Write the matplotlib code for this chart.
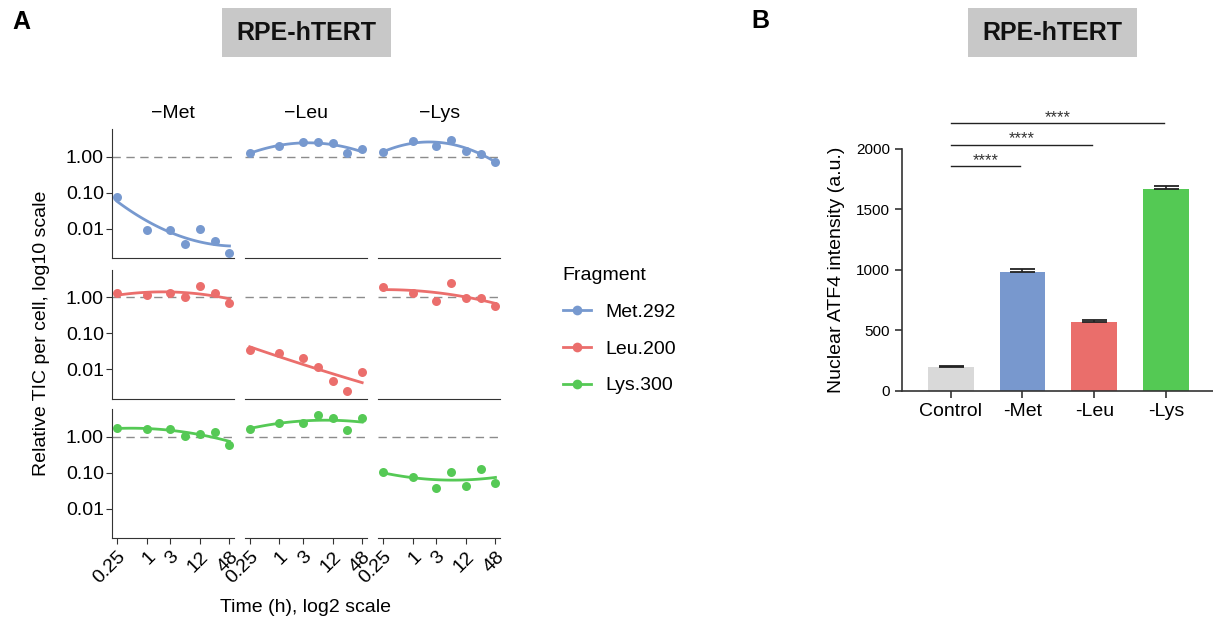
import numpy as np
import matplotlib
matplotlib.use("Agg")
import matplotlib.pyplot as plt
from matplotlib.lines import Line2D
from matplotlib.patches import Rectangle

plt.rcParams['font.family'] = ['Liberation Sans', 'DejaVu Sans']

# ---------------- data ----------------
time_h = [0.25, 1, 3, 6, 12, 24, 48]
time_ticks = [0.25, 1, 3, 12, 48]
time_tick_labels = ['0.25', '1', '3', '12', '48']
conditions = ['\u2212Met', '\u2212Leu', '\u2212Lys']
fragments = ['Met.292', 'Leu.200', 'Lys.300']

met292_met = [0.077, 0.0092, 0.0090, 0.0037, 0.0096, 0.0047, 0.0021]
met292_leu = [1.24, 1.98, 2.50, 2.55, 2.40, 1.29, 1.60]
met292_lys = [1.32, 2.67, 2.02, 2.90, 1.47, 1.19, 0.73]
leu200_met = [1.29, 1.19, 1.29, 1.00, 2.11, 1.32, 0.68]
leu200_leu = [0.034, 0.029, 0.021, 0.0114, 0.0048, 0.0026, 0.0086]
leu200_lys = [1.90, 1.29, 0.77, 2.45, 0.98, 0.96, 0.56]
lys300_met = [1.74, 1.63, 1.60, 1.04, 1.21, 1.32, 0.60]
lys300_leu = [1.67, 2.35, 2.35, 4.00, 3.23, 1.53, 3.37]
lys300_lys = [0.107, 0.074, 0.037, 0.107, 0.044, 0.129, 0.051]

y_ticks = [0.01, 0.1, 1.0]
y_tick_labels = ['0.01', '0.10', '1.00']

bar_labels = ['Control', '-Met', '-Leu', '-Lys']
bar_means = [196, 979, 565, 1669]
bar_err = [11, 25, 20, 27]
sig_ends = [1, 2, 3]
sig_y = [1859, 2035, 2215]
sig_text = ['****', '****', '****']

frag_colors = ['#7799CF', '#EB6E6C', '#55C955']
bar_colors = ['#D9D9D9', '#7898CE', '#EA6E6B', '#54C954']

grid_data = [
    [met292_met, met292_leu, met292_lys],
    [leu200_met, leu200_leu, leu200_lys],
    [lys300_met, lys300_leu, lys300_lys],
]

# ---------------- figure ----------------
W, H = 1213, 626
fig = plt.figure(figsize=(W / 100, H / 100), dpi=100)

def fx(px):
    return px / W

def fy(py):
    return 1 - py / H

spine_c = '#333333'
col_left = [112.3, 245.0, 378.3]
col_w = 122.0
row_top = [129.3, 270.0, 409.3]
row_h = 129.0

lx = np.log2(time_h)
grid_x = np.linspace(lx.min(), lx.max(), 100)

for r in range(3):
    for c in range(3):
        ax = fig.add_axes([fx(col_left[c]), fy(row_top[r] + row_h), fx(col_w), row_h / H])
        ax.set_xscale('log', base=2)
        ax.set_yscale('log', base=10)
        ax.set_xlim(2 ** -2.32, 2 ** 5.91)
        ax.set_ylim(10 ** -2.82, 10 ** 0.76)
        vals = np.array(grid_data[r][c])
        ax.axhline(1.0, color='#8c8c8c', lw=1.0, ls=(0, (6, 4)), zorder=1)
        coef = np.polyfit(lx, np.log10(vals), 2)
        ax.plot(2 ** grid_x, 10 ** np.polyval(coef, grid_x), color=frag_colors[r], lw=2.0, zorder=2)
        ax.scatter(time_h, vals, s=42, color=frag_colors[r], zorder=3, linewidths=0)
        for s in ['top', 'right']:
            ax.spines[s].set_visible(False)
        ax.spines['bottom'].set_color(spine_c)
        ax.spines['left'].set_color(spine_c)
        ax.minorticks_off()
        if c == 0:
            ax.set_yticks(y_ticks)
            ax.set_yticklabels(y_tick_labels, fontsize=14)
            ax.tick_params(axis='y', length=4, color=spine_c, pad=2)
        else:
            ax.spines['left'].set_visible(False)
            ax.set_yticks([])
        if r == 2:
            ax.set_xticks(time_ticks)
            ax.set_xticklabels(time_tick_labels, fontsize=14, rotation=45,
                               ha='right', va='top', rotation_mode='anchor')
            ax.tick_params(axis='x', length=4, color=spine_c, pad=3)
        else:
            ax.set_xticks([])
        if r == 0:
            ax.set_title(conditions[c], fontsize=14, pad=8)

fig.text(fx(42), fy(333), 'Relative TIC per cell, log10 scale', rotation=90,
         ha='center', va='center', fontsize=14)
fig.text(fx(306), fy(607), 'Time (h), log2 scale', ha='center', va='center', fontsize=14)

# legend
handles = [Line2D([0], [0], color=col, lw=2.0, marker='o', markersize=7, markeredgewidth=0)
           for col in frag_colors]
fig.legend(handles, fragments, title='Fragment', loc='upper left',
           bbox_to_anchor=(fx(545), fy(250)), frameon=False, fontsize=14,
           title_fontsize=14, alignment='left', handlelength=1.45,
           handletextpad=0.75, labelspacing=0.98)

# ---------------- bar panel ----------------
bx = fig.add_axes([fx(902), fy(390.7), fx(W - 902), (390.7 - 149) / H])
pos = np.arange(len(bar_labels))
bx.bar(pos, bar_means, width=0.636, color=bar_colors, zorder=2)
bx.errorbar(pos, bar_means, yerr=[np.zeros(len(bar_err)), bar_err], fmt='none',
            ecolor='#222222', elinewidth=1.2, capsize=9.0, capthick=1.3, zorder=3)
bx.set_xlim(-0.678, 3.653)
bx.set_ylim(0, 2000)
bx.set_yticks([0, 500, 1000, 1500, 2000])
bx.set_yticklabels(['0', '500', '1000', '1500', '2000'], fontsize=11)
bx.set_xticks(pos)
bx.set_xticklabels(bar_labels, fontsize=14)
bx.tick_params(axis='both', length=5, width=1.2, color=spine_c)
bx.tick_params(axis='x', pad=4)
for s in ['top', 'right']:
    bx.spines[s].set_visible(False)
for s in ['left', 'bottom']:
    bx.spines[s].set_color(spine_c)
    bx.spines[s].set_linewidth(1.2)
bx.set_ylabel('Nuclear ATF4 intensity (a.u.)', fontsize=14, labelpad=8)
for end, yv, txt in zip(sig_ends, sig_y, sig_text):
    bx.plot([0, end - 0.03], [yv, yv], color='#222222', lw=1.0, clip_on=False)
    bx.text((end - 0.03) / 2, yv + 10, txt, ha='center', va='baseline', fontsize=12,
            color='#333333', clip_on=False)

# ---------------- headers ----------------
for (x0, x1) in [(222, 390.7), (968, 1136.7)]:
    fig.patches.append(Rectangle((fx(x0), fy(56.7)), fx(x1 - x0), (56.7 - 7.7) / H,
                                 transform=fig.transFigure, facecolor='#C8C8C8',
                                 edgecolor='none', zorder=0))
    fig.text(fx((x0 + x1) / 2), fy(32.5), 'RPE-hTERT', ha='center', va='center',
             fontsize=18, fontweight='bold', color='#111111')
fig.text(fx(21), fy(22), 'A', ha='center', va='center', fontsize=18, fontweight='bold')
fig.text(fx(760), fy(21), 'B', ha='center', va='center', fontsize=18, fontweight='bold')

fig.savefig('out.png', dpi=100)
